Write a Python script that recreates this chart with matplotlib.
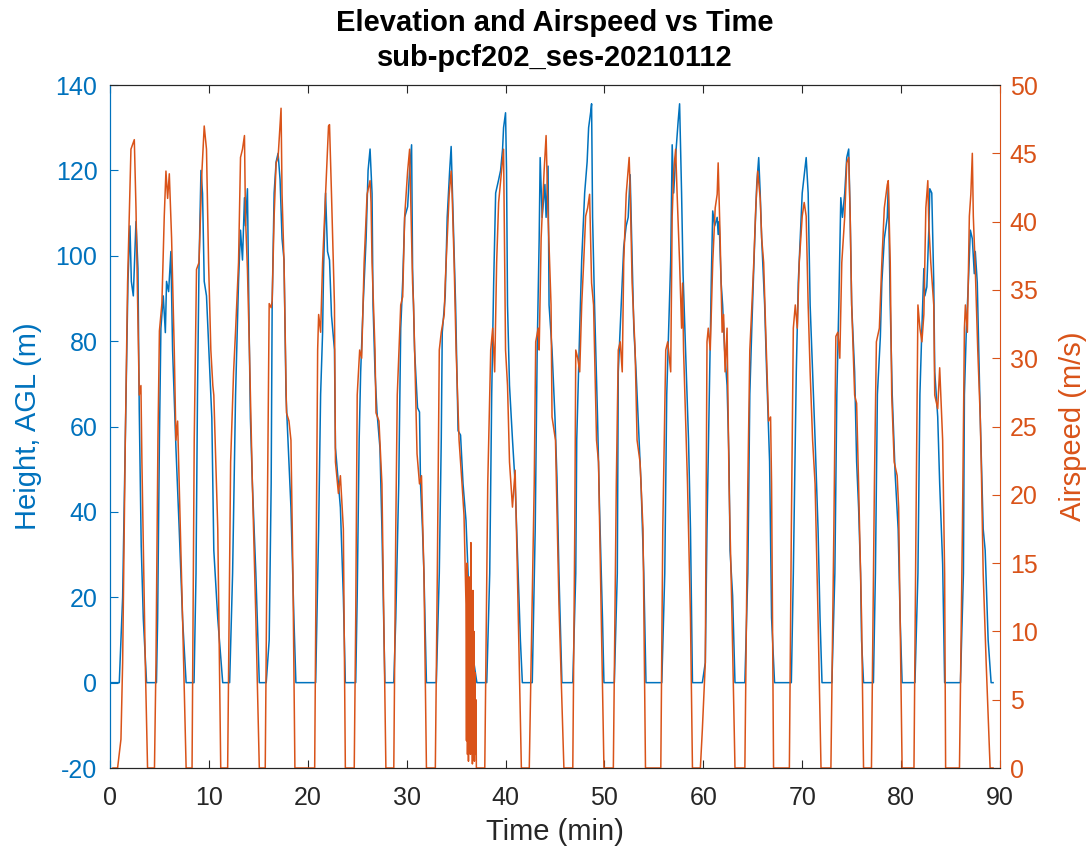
import matplotlib
matplotlib.use("Agg")
import matplotlib.pyplot as plt

plt.rcParams["font.family"] = ["Liberation Sans", "DejaVu Sans"]
plt.rcParams["axes.unicode_minus"] = False

BLUE = "#0072BD"
ORANGE = "#D95319"
DARK = "#262626"

# height above ground (m) vs time (min), one row per flight
height_t = [
    0.0, 0.94, 1.28, 1.62, 1.82, 2.02, 2.16, 2.36, 2.63, 2.83, 2.96, 3.16, 3.37, 3.7,
    4.7, 4.82, 5.0, 5.15, 5.39, 5.6, 5.72, 5.93, 6.16, 6.33, 6.67, 7.0, 7.34, 7.7,
    8.5, 8.7, 8.85, 9.0, 9.2, 9.36, 9.53, 9.76, 10.0, 10.3, 10.5, 10.9, 11.4,
    12.1, 12.4, 12.7, 13.0, 13.2, 13.4, 13.6, 13.7, 13.9, 14.07, 14.2, 14.4, 14.75, 15.1,
    15.8, 16.1, 16.3, 16.4, 16.6, 16.8, 17.0, 17.2, 17.4, 17.6, 17.8, 17.9, 18.3, 18.6, 18.8,
    20.8, 21.1, 21.3, 21.5, 21.6, 21.8, 22.0, 22.2, 22.4, 22.7, 22.8, 23.1, 23.3, 23.6, 23.8,
    24.85, 25.0, 25.2, 25.35, 25.6, 25.9, 26.1, 26.3, 26.5, 26.6, 26.8, 27.0, 27.3, 27.5, 27.8,
    28.7, 28.9, 29.2, 29.4, 29.6, 29.8, 30.1, 30.3, 30.5, 30.6, 30.8, 31.1, 31.3, 31.4, 31.6, 31.75, 32.0,
    33.0, 33.3, 33.5, 33.6, 33.9, 34.1, 34.35, 34.5, 34.7, 34.95, 35.2, 35.45, 35.7, 36.0, 36.3, 36.8, 37.1,
    38.1, 38.4, 38.6, 38.8, 39.0, 39.3, 39.5, 39.7, 39.8, 40.0, 40.1, 40.2, 40.4, 40.7, 40.97, 41.2, 41.5, 41.7,
    42.7, 43.0, 43.2, 43.4, 43.5, 43.7, 43.98, 44.1, 44.3, 44.4, 44.7, 45.0, 45.2, 45.4, 45.7,
    46.8, 47.1, 47.2, 47.5, 47.7, 48.0, 48.25, 48.4, 48.6, 48.7, 48.8, 49.0, 49.3, 49.5, 49.8, 49.95,
    51.0, 51.3, 51.4, 51.7, 51.95, 52.2, 52.4, 52.6, 52.8, 52.97, 53.2, 53.5, 53.7, 53.98, 54.2,
    55.8, 56.1, 56.3, 56.5, 56.7, 56.85, 57.0, 57.25, 57.45, 57.6, 57.8, 57.95, 58.2, 58.5, 58.7, 58.9,
    59.9, 60.2, 60.37, 60.6, 60.8, 60.95, 61.15, 61.4, 61.5, 61.6, 61.8, 61.95, 62.15, 62.4, 62.6, 62.7, 62.96, 63.2,
    64.2, 64.5, 64.7, 64.9, 65.2, 65.4, 65.6, 65.75, 65.9, 66.2, 66.4, 66.7, 66.9, 67.2,
    68.9, 69.1, 69.4, 69.6, 69.8, 70.0, 70.3, 70.4, 70.6, 70.8, 71.05, 71.3, 71.6, 71.8, 72.0,
    73.0, 73.3, 73.5, 73.7, 73.9, 74.07, 74.3, 74.5, 74.7, 74.85, 75.0, 75.3, 75.5, 75.7, 75.9, 76.0, 76.2,
    77.2, 77.4, 77.6, 77.9, 78.05, 78.3, 78.6, 78.7, 78.9, 79.1, 79.4, 79.7, 79.9, 80.1,
    81.4, 81.7, 81.9, 82.1, 82.3, 82.4, 82.6, 82.8, 82.9, 83.1, 83.3, 83.4, 83.7, 83.9, 84.2, 84.4,
    86.0, 86.3, 86.4, 86.6, 86.8, 87.0, 87.2, 87.4, 87.5, 87.7, 87.9, 88.0, 88.3, 88.5, 88.8, 89.1, 89.3,
]
height_m = [
    0, 0, 20, 67.5, 94, 107, 94, 90.6, 108, 97, 64, 32, 15, 0,
    0, 15, 57, 83, 90.6, 82, 94, 91.6, 101, 78, 55, 36, 15, 0,
    0, 25.6, 67.5, 97, 120, 114.6, 94, 90.6, 78, 62, 31, 15, 0,
    0, 25.6, 67.5, 94, 106, 99, 113.6, 107, 115.7, 83, 62, 46.6, 25.6, 0,
    0, 10, 46.6, 88.5, 114.7, 122, 124, 117.8, 104, 99, 67.5, 62, 41, 15, 0,
    0, 36, 67.5, 82, 97, 114.7, 101, 99, 86, 78, 55, 46.6, 41, 20, 0,
    0, 20.4, 57, 72.8, 88.5, 104, 120, 125, 114.6, 88.5, 72.8, 63.4, 55, 36, 0,
    0, 15, 46.6, 83, 94, 109, 111.5, 120, 126, 97, 78, 64.4, 63.4, 46.6, 36, 25.6, 0,
    0, 25.6, 57, 82, 90.6, 109, 120, 125.6, 109, 88.5, 59, 58, 46.6, 38, 20.4, 4.7, 0,
    0, 25.6, 67.5, 93.7, 114.7, 117.8, 120, 125, 130, 133.5, 120, 88.5, 69.6, 57, 46.6, 31, 10, 0,
    0, 36, 78, 104, 123, 109, 116.7, 109, 121, 88.5, 78, 62, 48, 25.6, 0,
    0, 25.6, 57, 83, 99, 114.7, 122, 130, 133.5, 135.6, 109, 88.5, 62.3, 41.4, 15.2, 0,
    0, 25.6, 72.8, 88.5, 102, 107, 109, 119, 99, 83, 72.8, 57, 46.6, 25.6, 0,
    0, 25.6, 67.5, 83, 99, 126, 114.7, 125, 131.4, 135.6, 114.7, 95.8, 78, 57, 36, 0,
    0, 4.7, 36, 67.5, 93.7, 110.5, 107, 109, 105, 108, 93.7, 88.5, 78, 69.6, 51.8, 31, 20.4, 0,
    0, 25.6, 67.5, 83, 104, 116.7, 123, 114.7, 104, 88.5, 72.8, 51.8, 15.2, 0,
    0, 25.6, 72.8, 93.7, 104, 114.7, 121, 123, 114.7, 88.5, 72.8, 57, 36, 15.2, 0,
    0, 25.6, 67.5, 88.5, 113.6, 109, 114.7, 123, 125, 109, 88.5, 72.8, 51.8, 41, 25.6, 10, 0,
    0, 25.6, 67.5, 81, 93.7, 104, 109, 116.7, 88.5, 67.5, 48.7, 36, 15.2, 0,
    0, 25.6, 67.5, 83, 97, 90.6, 92.7, 106, 115.7, 114.7, 93.7, 72.8, 62.3, 46.6, 27.7, 0,
    0, 25.6, 67.5, 83, 93.7, 106, 104, 95.8, 101, 93.7, 72.8, 62.3, 36, 31, 10, 0, 0,
]

# airspeed (m/s) vs time (min)
speed_t = [
    0.3, 0.77, 1.11, 1.28, 1.55, 1.78, 1.95, 2.12, 2.46, 2.63, 2.8, 2.96, 3.13, 3.23, 3.57, 3.8,
    4.5, 4.65, 4.85, 5.0, 5.25, 5.49, 5.66, 5.83, 6.0, 6.23, 6.5, 6.67, 6.84, 7.0, 7.34, 7.7,
    8.3, 8.52, 8.75, 9.0, 9.3, 9.53, 9.76, 9.97, 10.2, 10.4, 10.5, 10.9, 11.2,
    11.9, 12.2, 12.5, 12.7, 13.0, 13.2, 13.4, 13.6, 13.7, 13.9, 14.1, 14.4, 14.75, 15.1,
    15.7, 15.9, 16.1, 16.3, 16.4, 16.6, 16.8, 17.0, 17.3, 17.4, 17.6, 17.85, 18.1, 18.3, 18.5, 18.7,
    20.7, 21.0, 21.1, 21.3, 21.5, 21.8, 22.1, 22.2, 22.4, 22.7, 22.8, 23.1, 23.3, 23.6, 23.8,
    24.7, 24.85, 25.0, 25.25, 25.45, 25.7, 26.0, 26.3, 26.4, 26.5, 26.8, 26.9, 27.2, 27.5, 27.9,
    28.7, 28.9, 29.05, 29.4, 29.6, 29.8, 30.1, 30.3, 30.6, 30.7, 31.05, 31.3, 31.5, 31.75, 32.0,
    32.9, 33.1, 33.3, 33.5, 33.8, 33.9, 34.3, 34.5, 34.6, 34.8, 35.0, 35.3, 35.6, 35.8,
    36.0, 36.05, 36.1, 36.15, 36.2, 36.25, 36.3, 36.35, 36.4, 36.45, 36.5, 36.55, 36.6, 36.65,
    36.7, 36.75, 36.8, 36.85, 36.9, 36.95, 37.0, 37.05,
    37.9, 38.2, 38.5, 38.7, 38.9, 39.1, 39.3, 39.6, 39.8, 40.0, 40.2, 40.4, 40.7, 40.97, 41.2, 41.6,
    42.4, 42.9, 43.05, 43.3, 43.4, 43.6, 43.9, 44.1, 44.3, 44.6, 44.7, 45.05, 45.4, 45.9,
    46.8, 47.0, 47.1, 47.3, 47.5, 47.7, 47.9, 48.1, 48.3, 48.5, 48.7, 48.9, 49.2, 49.4, 49.6, 49.95,
    50.9, 51.2, 51.4, 51.6, 51.8, 51.95, 52.2, 52.5, 52.6, 52.8, 53.1, 53.3, 53.6, 53.9, 54.15,
    55.7, 55.9, 56.2, 56.4, 56.7, 56.85, 57.0, 57.2, 57.35, 57.6, 57.8, 57.9, 58.0, 58.4, 58.7, 58.9,
    59.7, 59.9, 60.2, 60.37, 60.5, 60.7, 60.95, 61.2, 61.4, 61.5, 61.7, 61.9, 62.05, 62.2, 62.4, 62.6, 62.9, 63.2,
    64.2, 64.5, 64.7, 64.85, 65.1, 65.3, 65.5, 65.75, 65.9, 66.1, 66.3, 66.6, 66.8, 66.9, 67.1,
    68.7, 68.9, 69.1, 69.3, 69.5, 69.7, 70.0, 70.2, 70.4, 70.6, 70.8, 71.05, 71.3, 71.6, 71.9,
    72.9, 73.2, 73.4, 73.6, 73.8, 74.0, 74.3, 74.5, 74.7, 74.85, 75.0, 75.3, 75.5, 75.7, 76.0, 76.2,
    77.0, 77.3, 77.5, 77.8, 78.05, 78.3, 78.6, 78.7, 78.9, 79.05, 79.3, 79.6, 79.75, 79.9, 80.1,
    81.3, 81.5, 81.7, 81.9, 82.1, 82.3, 82.5, 82.7, 82.8, 83.0, 83.3, 83.4, 83.7, 83.9, 84.2, 84.4, 84.5,
    85.9, 86.2, 86.4, 86.5, 86.7, 86.9, 87.05, 87.2, 87.3, 87.5, 87.75, 88.0, 88.1, 88.3, 88.6, 89.0, 89.3,
]
speed_ms = [
    0, 0, 2.1, 7.7, 24, 35.5, 40.4, 45.3, 46, 41, 34, 27.3, 28, 22.4, 7.7, 0,
    0, 7.7, 24, 32, 34, 40.4, 43.7, 41.7, 43.5, 38.8, 30.6, 24, 25.4, 20.8, 11, 0,
    0, 24, 36.5, 37, 43.7, 47, 45.3, 37, 30.6, 28, 27.3, 17.5, 0,
    0, 22.4, 29, 32, 37, 44.7, 45.3, 46.3, 40.4, 36.5, 30.6, 20.8, 11, 0,
    0, 17.5, 34, 33.7, 34.2, 40.4, 44.3, 44.7, 48.3, 42, 37, 26, 25.4, 24, 14.2, 0,
    0, 30.6, 33.2, 31.9, 37, 42, 47, 47.1, 42, 33.9, 22.4, 20.1, 21.4, 17.5, 0,
    0, 11, 27.3, 30.6, 30, 37, 42, 43, 41.4, 37, 30.6, 26, 25.4, 20.8, 0,
    0, 17.5, 27.3, 33.9, 34.5, 40.4, 43.7, 45.3, 35.5, 33.9, 23, 20.8, 21.4, 14.2, 0,
    0, 14.2, 30.6, 31.9, 33.2, 35.5, 42, 43.7, 42, 37, 30.6, 24, 20.8, 18.5,
    12, 2, 15, 1, 9, 0.5, 14, 3, 11, 1, 16.5, 2, 8, 0.3,
    13, 1.5, 10, 0.5, 7, 1, 5, 0,
    0, 20.8, 30.6, 32.2, 29, 37, 41.4, 43.7, 45.3, 30.6, 28, 22.4, 19.1, 21.8, 14.2, 0,
    0, 20.8, 31.2, 32.2, 30.6, 38.8, 43.7, 46.3, 40.4, 33.9, 25.7, 24, 12, 0,
    0, 17.5, 30.6, 30, 29, 33.9, 37, 40.4, 41, 42, 35.5, 33.9, 24, 22.4, 14.2, 0,
    0, 20.8, 30.6, 31.2, 29, 37, 42, 44.7, 42.4, 35.5, 30.6, 24, 22.4, 17.5, 0,
    0, 17.5, 30.6, 31.2, 29, 40.4, 43.7, 45.3, 42, 37, 32.2, 35.5, 30.6, 20.8, 11, 0,
    0, 2.8, 7.7, 31.2, 32.2, 30.6, 37, 41, 42, 44.3, 38.8, 31.9, 33.2, 29, 32.2, 20.8, 11, 0,
    0, 20.8, 30.6, 32.9, 37, 41, 43.7, 41.7, 38.8, 37, 32.2, 25.4, 25.7, 20.8, 0,
    0, 17.5, 32.2, 33.9, 32.2, 37, 40.4, 41.4, 40.4, 33.9, 29, 24, 20.8, 11, 0,
    0, 17.5, 31.6, 31.9, 30, 37, 40.4, 44.3, 44.7, 40.4, 33.9, 27.3, 26.7, 20.8, 11, 0,
    0, 20.8, 31.2, 32.2, 37, 41, 42.7, 43, 37, 27.3, 22.4, 21.4, 19.1, 11, 0,
    0, 17.5, 33.9, 32.2, 31.2, 33.2, 41, 43, 39.8, 37, 33.9, 27.3, 26.3, 29.3, 24, 14.2, 0,
    0, 17.5, 32.2, 33.9, 31.9, 40.4, 42, 45, 40.4, 36.5, 30.6, 25.7, 22.4, 14.2, 7.7, 0, 0,
]

fig = plt.figure(figsize=(10.91, 8.51), dpi=100)
ax = fig.add_axes([0.1008, 0.0975, 0.8158, 0.8026])
ax2 = ax.twinx()

ax.plot(height_t, height_m, color=BLUE, lw=1.1)
ax2.plot(speed_t, speed_ms, color=ORANGE, lw=1.1)

ax.set_xlim(0, 90)
ax.set_ylim(-20, 140)
ax2.set_ylim(0, 50)
ax.set_xticks(range(0, 91, 10))
ax.set_yticks(range(-20, 141, 20))
ax2.set_yticks(range(0, 51, 5))

ax.tick_params(axis="x", direction="in", top=True, colors=DARK, labelsize=18, length=6, pad=13)
ax.tick_params(axis="y", direction="in", colors=BLUE, labelsize=18, length=6, pad=9)
ax2.tick_params(axis="y", direction="in", colors=ORANGE, labelsize=18, length=6, pad=7)

for side in ["top", "bottom"]:
    ax.spines[side].set_color(DARK)
    ax2.spines[side].set_color(DARK)
ax2.spines["left"].set_color(BLUE)
ax2.spines["right"].set_color(ORANGE)
ax.spines["left"].set_color(BLUE)
ax.spines["right"].set_visible(False)

ax.set_xlabel("Time (min)", fontsize=21, color=DARK, labelpad=6)
ax.set_ylabel("Height, AGL (m)", fontsize=21, color=BLUE, labelpad=10)
ax2.set_ylabel("Airspeed (m/s)", fontsize=21, color=ORANGE, labelpad=15)
ax.set_title("Elevation and Airspeed vs Time\nsub-pcf202_ses-20210112",
             fontsize=21, fontweight="bold", color="black", pad=14, linespacing=1.3)

fig.savefig("out.png", dpi=100)
